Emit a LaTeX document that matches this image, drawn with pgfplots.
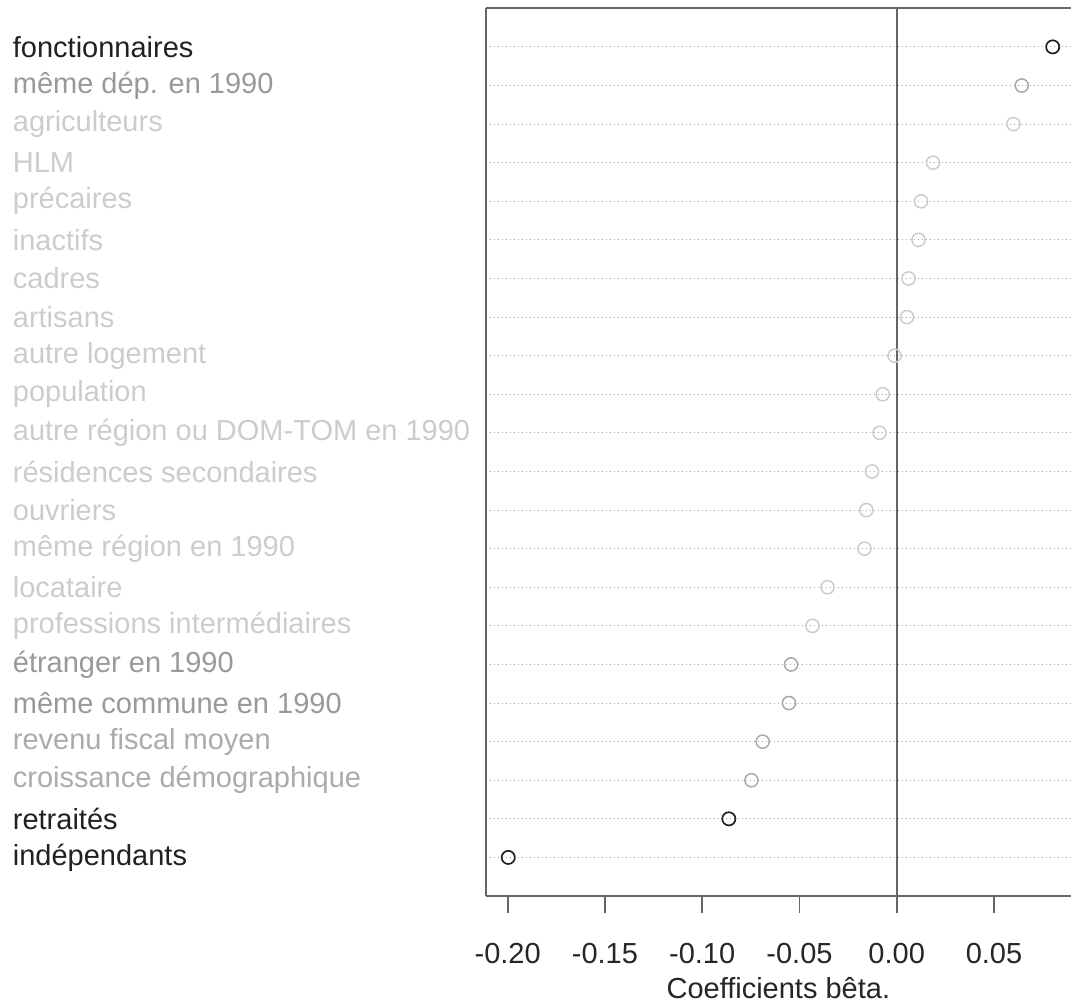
\documentclass[border=0pt]{standalone}
\usepackage{fontspec}
\setmainfont{Liberation Sans}
\usepackage{pgfplots}
\pgfplotsset{compat=1.18}
\usepackage{pgfplotstable}
\definecolor{dk}{gray}{0.13}
\definecolor{md}{gray}{0.6}
\definecolor{ms}{gray}{0.67}
\definecolor{lt}{gray}{0.8}
\definecolor{ax}{gray}{0.4}
\pgfplotstableread{
x y c
0.0802 22 k
0.0643 21 m
0.0600 20 l
0.0187 19 l
0.0125 18 l
0.0112 17 l
0.0061 16 l
0.0053 15 l
-0.0011 14 l
-0.0072 13 l
-0.0088 12 l
-0.0127 11 l
-0.0156 10 l
-0.0166 9 l
-0.0356 8 l
-0.0433 7 l
-0.0543 6 m
-0.0554 5 m
-0.0689 4 s
-0.0747 3 s
-0.0863 2 k
-0.1997 1 k
}\coefs
\begin{document}
\begin{tikzpicture}
\path[use as bounding box] (0,0) rectangle (535.5pt,-501.5pt);
\begin{axis}[
  at={(242.85pt,-448pt)}, anchor=south west,
  scale only axis, width=292.65pt, height=443.85pt,
  xmin=-0.2113, xmax=0.0896, ymin=0, ymax=23,
  axis lines*=left, axis line style={-, draw=ax, line width=0.85pt},
  clip=false,
  xtick={-0.2,-0.15,-0.1,-0.05,0,0.05},
  xticklabels={-0.20,-0.15,-0.10,-0.05,0.00,0.05},
  tick align=outside, major tick length=8.5pt,
  xtick style={draw=ax, line width=0.85pt},
  xticklabel style={font=\fontsize{14.5}{17}\selectfont, text=black!85, anchor=base, yshift=-25pt},
  ytick={1,...,22},
  ytick style={draw=none},
  yticklabels={
    {\textcolor{dk}{indépendants}},
    {\textcolor{dk}{retraités}},
    {\textcolor{ms}{croissance démographique}},
    {\textcolor{ms}{revenu fiscal moyen}},
    {\textcolor{md}{même commune en 1990}},
    {\textcolor{md}{étranger en 1990}},
    {\textcolor{lt}{professions intermédiaires}},
    {\textcolor{lt}{locataire}},
    {\textcolor{lt}{même région en 1990}},
    {\textcolor{lt}{ouvriers}},
    {\textcolor{lt}{résidences secondaires}},
    {\textcolor{lt}{autre région ou DOM-TOM en 1990}},
    {\textcolor{lt}{population}},
    {\textcolor{lt}{autre logement}},
    {\textcolor{lt}{artisans}},
    {\textcolor{lt}{cadres}},
    {\textcolor{lt}{inactifs}},
    {\textcolor{lt}{précaires}},
    {\textcolor{lt}{HLM}},
    {\textcolor{lt}{agriculteurs}},
    {\textcolor{md}{même dép. en 1990}},
    {\textcolor{dk}{fonctionnaires}}},
  yticklabel style={font=\fontsize{14.5}{17}\selectfont, anchor=west, inner sep=0pt, xshift=-228.1pt},
  ymajorgrids,
  grid style={draw=black!35, line width=0.5pt, dash pattern=on 0.5pt off 1.5pt},
  xlabel={Coefficients bêta.},
  xlabel style={font=\fontsize{14.5}{17}\selectfont, text=black!85, at={(axis description cs:0.5,0)}, anchor=base, yshift=-51pt},
]
\draw[ax, line width=0.85pt] (rel axis cs:0,1) -- (rel axis cs:1,1);
\addplot[ax, line width=0.8pt] coordinates {(0,0) (0,23)};
\addplot[scatter, only marks, scatter src=explicit symbolic, mark=o, mark size=3.3pt,
  scatter/classes={
    k={mark=o, draw=dk, line width=0.85pt},
    m={mark=o, draw=md!85, line width=0.75pt},
    s={mark=o, draw=ms, line width=0.75pt},
    l={mark=o, draw=lt, line width=0.75pt}}]
  table[x=x, y=y, meta=c] {\coefs};
\end{axis}
\end{tikzpicture}
\end{document}
